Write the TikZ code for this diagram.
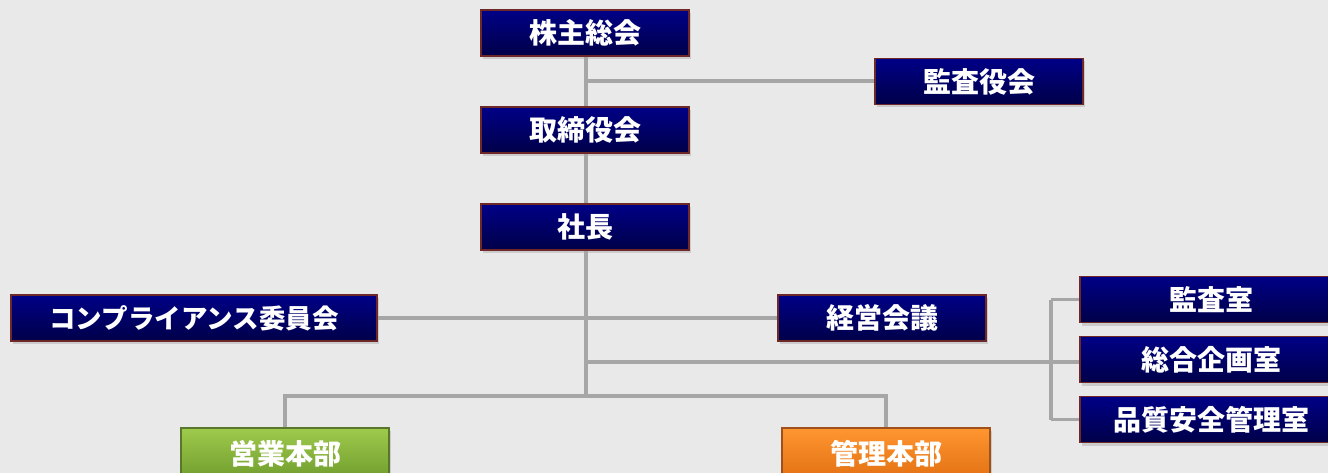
\documentclass[tikz,border=0pt]{standalone}
\usepackage{fontspec}
\setmainfont{Noto Sans CJK JP}
\usetikzlibrary{shadows}
\definecolor{bg}{RGB}{233,233,233}
\definecolor{navyT}{RGB}{0,0,135}
\definecolor{navyB}{RGB}{0,0,72}
\definecolor{navyE}{RGB}{110,40,40}
\definecolor{grnT}{RGB}{158,202,76}
\definecolor{grnB}{RGB}{112,156,46}
\definecolor{grnE}{RGB}{90,118,44}
\definecolor{orgT}{RGB}{255,150,48}
\definecolor{orgB}{RGB}{226,112,18}
\definecolor{orgE}{RGB}{160,80,26}
\definecolor{conn}{RGB}{166,166,166}
\tikzset{
  box/.style={draw=navyE, line width=1.2pt, top color=navyT, bottom color=navyB,
    minimum width=208pt, minimum height=46pt, inner sep=0pt,
    text=white, font=\fontsize{28}{32}\selectfont\bfseries,
    drop shadow={opacity=0.28, shadow xshift=2pt, shadow yshift=-3pt}},
  gbox/.style={box, draw=grnE, top color=grnT, bottom color=grnB},
  obox/.style={box, draw=orgE, top color=orgT, bottom color=orgB},
  link/.style={draw=conn, line width=3.2pt}
}
\begin{document}
\begin{tikzpicture}[x=1pt,y=-1pt]
\fill[bg] (0,0) rectangle (1328,473);
\useasboundingbox (0,0) rectangle (1328,473);
\clip (0,0) rectangle (1328,473);
\coordinate (j1) at (586,81);
\coordinate (j2) at (586,362);
\coordinate (j3) at (586,396);
\coordinate (b1) at (1051,362);
\node[box] (kabu) at (585,33) {株主総会};
\node[box] (kansayaku) at (979,81.5) {監査役会};
\node[box] (tori) at (585,130) {取締役会};
\node[box] (shacho) at (585,227) {社長};
\node[box, minimum width=366pt, font=\fontsize{26.5}{30}\selectfont\bfseries] (comp) at (194,318) {コンプライアンス委員会};
\node[box] (keiei) at (882,318) {経営会議};
\node[box, minimum width=262pt] (kansa) at (1211,299.5) {監査室};
\node[box, minimum width=262pt] (sogo) at (1211,359.5) {総合企画室};
\node[box, minimum width=262pt] (hinshitsu) at (1211,419.5) {品質安全管理室};
\node[gbox, minimum height=52pt] (eigyo) at (285,454) {営業本部};
\node[obox, minimum height=52pt] (kanri) at (886,454) {管理本部};
\draw[link] (kabu.south -| j1) -- (tori.north -| j1);
\draw[link] (j1) -- (kansayaku.west |- j1);
\draw[link] (tori.south -| j1) -- (shacho.north -| j1);
\draw[link] (shacho.south -| j1) -- (j3);
\draw[link] (comp.east) -- (keiei.west);
\draw[link] (j2) -- (b1);
\draw[link] (b1 |- kansa.west) -- (kansa.west);
\draw[link] (b1) -- (sogo.west |- b1);
\draw[link] (b1 |- hinshitsu.west) -- (hinshitsu.west);
\draw[link] (b1 |- kansa.west) -- (b1 |- hinshitsu.west);
\draw[link] (eigyo.north) |- (j3) -| (kanri.north);
\end{tikzpicture}
\end{document}
